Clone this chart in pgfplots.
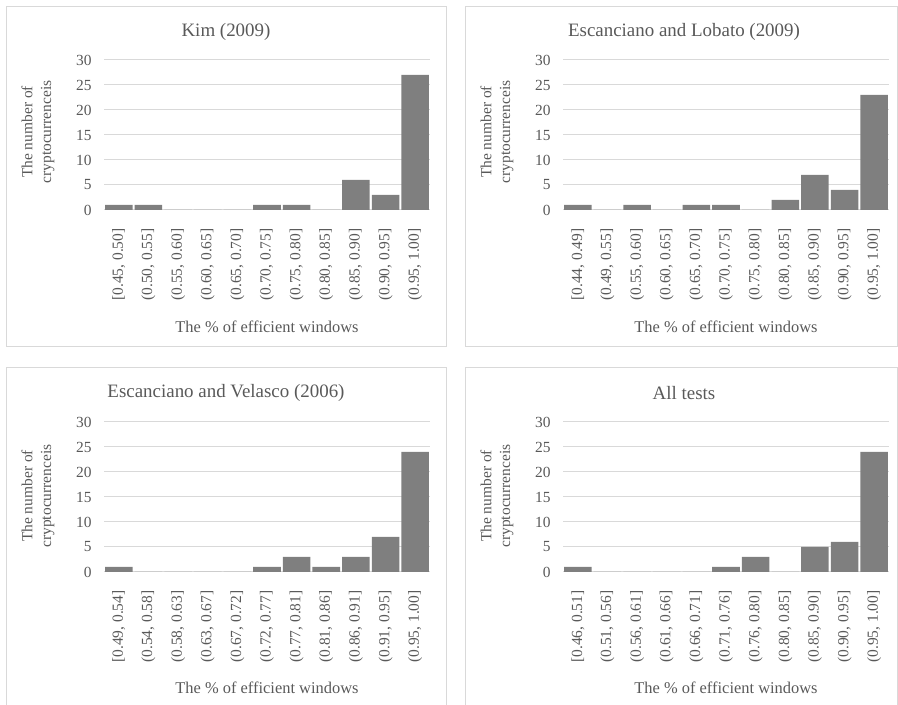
\documentclass[border=0pt]{standalone}
\usepackage{pgfplots}
\pgfplotsset{compat=1.18}
\usepackage{fontspec}
\setmainfont{Liberation Serif}
\definecolor{txt}{HTML}{595959}
\definecolor{barc}{HTML}{7F7F7F}
\definecolor{gridc}{HTML}{D9D9D9}
\definecolor{boxc}{HTML}{D9D9D9}
\pgfplotsset{panel/.style={
  scale only axis, width=326bp, height=150bp, anchor=south west,
  ymin=0, ymax=30, ytick={0,5,...,30}, ymajorgrids,
  grid style={draw=gridc, line width=1bp},
  xmin=-0.5, xmax=10.5, xtick={0,...,10},
  axis line style={draw=none}, major tick length=0pt,
  ybar, bar width=0.93,
  /pgf/number format/assume math mode=true,
  tick label style={font=\fontsize{15.5}{17}\selectfont, text=txt},
  yticklabel shift=9bp,
  xticklabel style={rotate=90, anchor=east},
  xticklabel shift=15bp,
  clip=false,
}}
\begin{document}
\begin{tikzpicture}[x=1bp,y=1bp]
\useasboundingbox (0,0) rectangle (898,705);
% panel borders
\draw[boxc, line width=1bp] (6,358) rectangle (446,698);
\draw[boxc, line width=1bp] (465,358) rectangle (897.5,698);
\draw[boxc, line width=1bp] (6,-2) rectangle (446,337);
\draw[boxc, line width=1bp] (465,-2) rectangle (897.5,337);

% Panel 1: Kim (2009)
\begin{axis}[panel, at={(104bp,495bp)},
  xticklabels={{[0.45, 0.50]},{(0.50, 0.55]},{(0.55, 0.60]},{(0.60, 0.65]},{(0.65, 0.70]},{(0.70, 0.75]},{(0.75, 0.80]},{(0.80, 0.85]},{(0.85, 0.90]},{(0.90, 0.95]},{(0.95, 1.00]}}]
\addplot[fill=barc, draw=none] coordinates {(0,1) (1,1) (2,0) (3,0) (4,0) (5,1) (6,1) (7,0) (8,6) (9,3) (10,27)};
\end{axis}
\node[font=\fontsize{19}{21}\selectfont, text=txt] at (226,673) {Kim (2009)};
\node[font=\fontsize{16.5}{19}\selectfont, text=txt] at (267,378) {The \% of efficient windows};
\node[rotate=90, align=center, font=\fontsize{15.5}{19}\selectfont, text=txt] at (38,573) {The number of\\cryptocurrenceis};

% Panel 2: Escanciano and Lobato (2009)
\begin{axis}[panel, at={(563bp,495bp)},
  xticklabels={{[0.44, 0.49]},{(0.49, 0.55]},{(0.55, 0.60]},{(0.60, 0.65]},{(0.65, 0.70]},{(0.70, 0.75]},{(0.75, 0.80]},{(0.80, 0.85]},{(0.85, 0.90]},{(0.90, 0.95]},{(0.95, 1.00]}}]
\addplot[fill=barc, draw=none] coordinates {(0,1) (1,0) (2,1) (3,0) (4,1) (5,1) (6,0) (7,2) (8,7) (9,4) (10,23)};
\end{axis}
\node[font=\fontsize{19}{21}\selectfont, text=txt] at (684,673) {Escanciano and Lobato (2009)};
\node[font=\fontsize{16.5}{19}\selectfont, text=txt] at (726,378) {The \% of efficient windows};
\node[rotate=90, align=center, font=\fontsize{15.5}{19}\selectfont, text=txt] at (497,573) {The number of\\cryptocurrenceis};

% Panel 3: Escanciano and Velasco (2006)
\begin{axis}[panel, at={(104bp,133bp)},
  xticklabels={{[0.49, 0.54]},{(0.54, 0.58]},{(0.58, 0.63]},{(0.63, 0.67]},{(0.67, 0.72]},{(0.72, 0.77]},{(0.77, 0.81]},{(0.81, 0.86]},{(0.86, 0.91]},{(0.91, 0.95]},{(0.95, 1.00]}}]
\addplot[fill=barc, draw=none] coordinates {(0,1) (1,0) (2,0) (3,0) (4,0) (5,1) (6,3) (7,1) (8,3) (9,7) (10,24)};
\end{axis}
\node[font=\fontsize{19}{21}\selectfont, text=txt] at (226,312) {Escanciano and Velasco (2006)};
\node[font=\fontsize{16.5}{19}\selectfont, text=txt] at (267,17) {The \% of efficient windows};
\node[rotate=90, align=center, font=\fontsize{15.5}{19}\selectfont, text=txt] at (38,209) {The number of\\cryptocurrenceis};

% Panel 4: All tests
\begin{axis}[panel, at={(563bp,133bp)},
  xticklabels={{[0.46, 0.51]},{(0.51, 0.56]},{(0.56, 0.61]},{(0.61, 0.66]},{(0.66, 0.71]},{(0.71, 0.76]},{(0.76, 0.80]},{(0.80, 0.85]},{(0.85, 0.90]},{(0.90, 0.95]},{(0.95, 1.00]}}]
\addplot[fill=barc, draw=none] coordinates {(0,1) (1,0) (2,0) (3,0) (4,0) (5,1) (6,3) (7,0) (8,5) (9,6) (10,24)};
\end{axis}
\node[font=\fontsize{19}{21}\selectfont, text=txt] at (684,312) {All tests};
\node[font=\fontsize{16.5}{19}\selectfont, text=txt] at (726,17) {The \% of efficient windows};
\node[rotate=90, align=center, font=\fontsize{15.5}{19}\selectfont, text=txt] at (497,209) {The number of\\cryptocurrenceis};
\end{tikzpicture}
\end{document}
